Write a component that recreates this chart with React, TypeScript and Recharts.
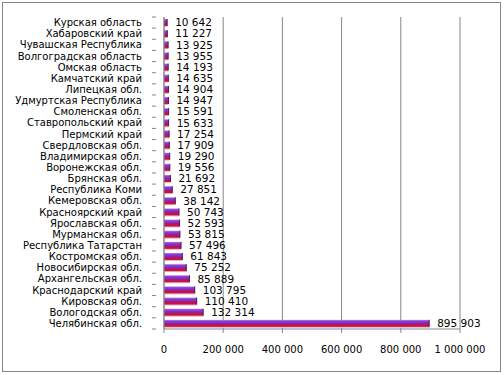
import React from 'react';
import { BarChart, Bar, XAxis, YAxis, CartesianGrid, LabelList } from 'recharts';

const regions = [
  'Курская область', 'Хабаровский край', 'Чувашская Республика', 'Волгоградская область',
  'Омская область', 'Камчатский край', 'Липецкая обл.', 'Удмуртская Республика',
  'Смоленская обл.', 'Ставропольский край', 'Пермский край', 'Свердловская обл.',
  'Владимирская обл.', 'Воронежская обл.', 'Брянская обл.', 'Республика Коми',
  'Кемеровская обл.', 'Красноярский край', 'Ярославская обл.', 'Мурманская обл.',
  'Республика Татарстан', 'Костромская обл.', 'Новосибирская обл.', 'Архангельская обл.',
  'Краснодарский край', 'Кировская обл.', 'Вологодская обл.', 'Челябинская обл.',
];
const values = [
  10642, 11227, 13925, 13955, 14193, 14635, 14904, 14947, 15591, 15633, 17254, 17909,
  19290, 19556, 21692, 27851, 38142, 50743, 52593, 53815, 57496, 61843, 75252, 85889,
  103795, 110410, 132314, 895903,
];
const xTicks = [0, 200000, 400000, 600000, 800000, 1000000];

const data = regions.map((name, i) => ({ name, value: values[i] }));

const fmt = (v: number) => String(v).replace(/\B(?=(\d{3})+(?!\d))/g, ' ');

const FONT = 'DejaVu Sans';
const GRAY = '#868686';

const YTick = (props: any) => {
  const { x, y, payload, index } = props;
  const half = 5.55;
  return (
    <g>
      <line x1={x - 4} x2={x} y1={y + half} y2={y + half} stroke={GRAY} />
      {index === 0 && <line x1={x - 4} x2={x} y1={y - half} y2={y - half} stroke={GRAY} />}
      <text x={x - 14} y={y} dy="0.35em" textAnchor="end" fontFamily={FONT} fontSize={10} fill="#000">
        {payload.value}
      </text>
    </g>
  );
};

const BarShape = (props: any) => {
  const { x, y, width, height } = props;
  if (!width || width <= 0) return null;
  return (
    <g>
      <rect x={x} y={y + 1} width={width} height={height} fill="#e2b8c6" />
      <rect x={x} y={y} width={width} height={height} fill="url(#barGrad)" />
      <line x1={x + width} x2={x + width} y1={y} y2={y + height} stroke="#5a1050" strokeWidth={1} />
    </g>
  );
};

export default function App() {
  return (
    <div style={{ position: 'absolute', left: 0, top: 0, width: 504, height: 375, background: '#fff' }}>
      <svg width={504} height={375} style={{ position: 'absolute', left: 0, top: 0 }}>
        <rect x={2.5} y={2.5} width={498} height={369} fill="#fff" stroke={GRAY} />
      </svg>
      <div style={{ position: 'absolute', left: 0, top: 0 }}>
        <BarChart
          width={504}
          height={375}
          data={data}
          layout="vertical"
          margin={{ top: 17, right: 44, bottom: 16, left: 0 }}
          barCategoryGap={2}
        >
          <defs>
            <linearGradient id="barGrad" x1="0" y1="0" x2="0" y2="1">
              <stop offset="0" stopColor="#b98be6" />
              <stop offset="0.18" stopColor="#8d3fd8" />
              <stop offset="0.5" stopColor="#7a2bc8" />
              <stop offset="0.56" stopColor="#b01870" />
              <stop offset="0.85" stopColor="#c8103f" />
              <stop offset="1" stopColor="#b8204a" />
            </linearGradient>
          </defs>
          <CartesianGrid horizontal={false} vertical stroke={GRAY} strokeWidth={1} />
          <XAxis
            type="number"
            domain={[0, 1000000]}
            ticks={xTicks}
            tickFormatter={fmt}
            axisLine={{ stroke: GRAY }}
            tickLine={{ stroke: GRAY }}
            tickSize={4}
            tickMargin={13}
            height={30}
            tick={{ fontFamily: FONT, fontSize: 10, fill: '#000' }}
            interval={0}
          />
          <YAxis
            type="category"
            dataKey="name"
            width={164}
            axisLine={{ stroke: GRAY }}
            tickLine={false}
            tick={<YTick />}
            interval={0}
          />
          <Bar dataKey="value" barSize={7} shape={<BarShape />} isAnimationActive={false}>
            <LabelList
              dataKey="value"
              position="right"
              offset={8}
              formatter={(v: any) => fmt(Number(v))}
              style={{ fontFamily: FONT, fontSize: 10.5, fill: '#000' }}
            />
          </Bar>
        </BarChart>
      </div>
    </div>
  );
}
